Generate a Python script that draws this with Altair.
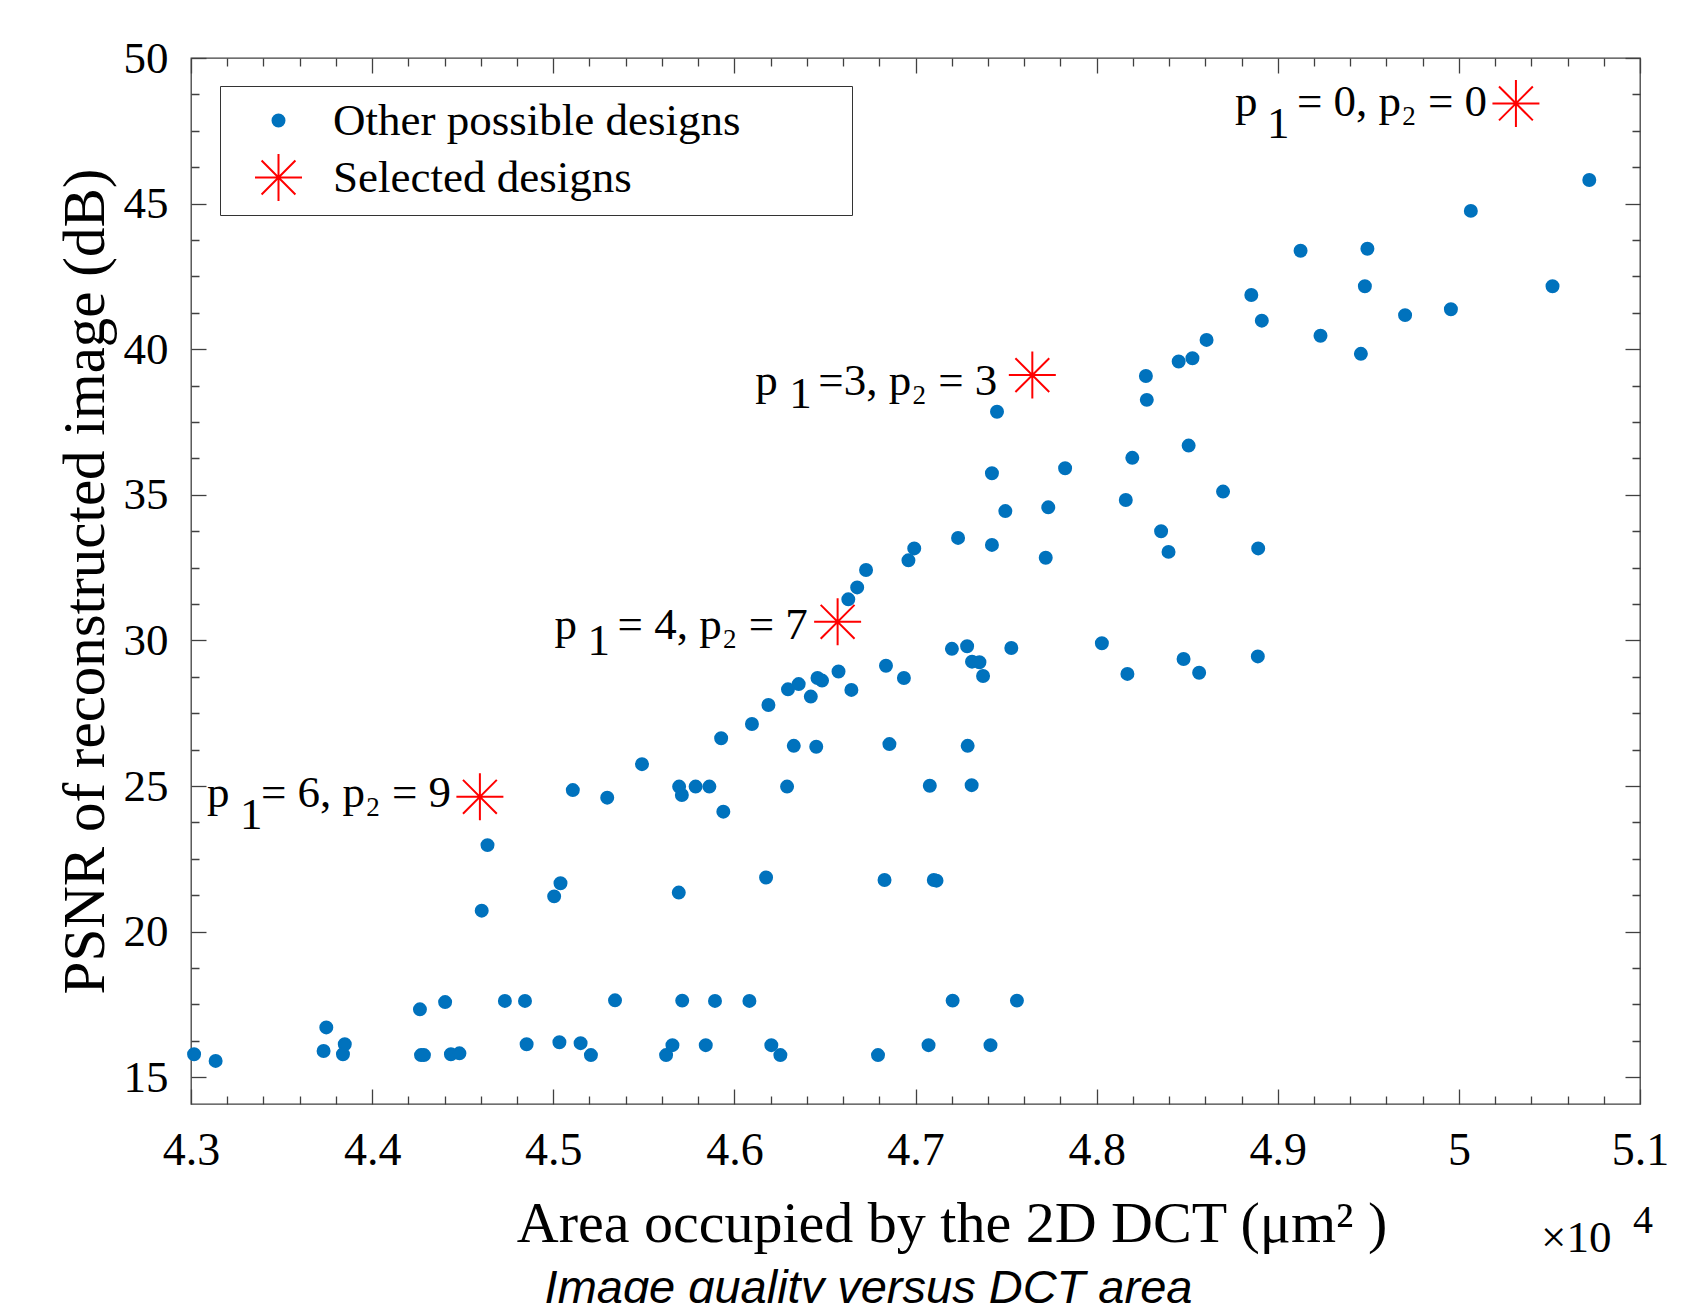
import altair as alt
import pandas as pd

# ---------------- data (x in units of 10^4 um^2, y in dB) ----------------
other_x = [4.3017, 4.3136, 4.3732, 4.3747, 4.3839, 4.3849, 4.4264, 4.4270, 4.4286, 4.4403,
           4.4435, 4.4482, 4.4733, 4.4844, 4.4853, 4.5034, 4.5151, 4.5208, 4.5341, 4.5623,
           4.5658, 4.5712, 4.5842, 4.5893, 4.6083, 4.6204, 4.6254, 4.6793, 4.7072, 4.7205,
           4.7414, 4.7560,
           4.4637, 4.4605, 4.5005, 4.5040, 4.5693, 4.6175, 4.6829, 4.7101, 4.7116,
           4.5108, 4.5298, 4.5490, 4.5695, 4.5710, 4.5786, 4.5862, 4.5939, 4.5927, 4.6097,
           4.6188, 4.6296, 4.6355, 4.6422, 4.6459, 4.6484, 4.6575, 4.6646, 4.6328, 4.6452,
           4.6291, 4.6629, 4.6678, 4.6727,
           4.8698, 4.8161, 4.7496, 4.7733, 4.7235, 4.7422, 4.6993, 4.6961, 4.7719, 4.8356,
           4.8397, 4.8892, 4.6837, 4.6936, 4.7201, 4.7285, 4.7312, 4.7353, 4.7373, 4.7529,
           4.8029, 4.8170, 4.8480, 4.8566, 4.8890, 4.6856, 4.7288, 4.7079, 4.7310,
           5.0720, 5.0066, 4.9126, 4.9495, 4.9481, 5.0517, 4.9956, 4.9703, 4.9236, 4.9459,
           4.8854, 4.8912, 4.8607, 4.8529, 4.8453, 4.8272, 4.8277, 4.7450, 4.7422, 4.7826,
           4.8197, 4.8508]
other_y = [15.79, 15.56, 15.90, 16.71, 15.79, 16.13, 17.33, 15.76, 15.76, 17.58,
           15.79, 15.82, 17.62, 17.62, 16.13, 16.20, 16.17, 15.76, 17.64, 15.76,
           16.10, 17.63, 16.10, 17.62, 17.62, 16.10, 15.76, 15.76, 16.10, 17.63,
           16.10, 17.63,
           22.97, 20.72, 21.21, 21.66, 21.34, 21.86, 21.77, 21.77, 21.75,
           24.86, 24.60, 25.75, 24.98, 24.69, 24.98, 24.98, 24.12, 26.64, 27.13,
           27.78, 28.32, 28.50, 28.07, 28.71, 28.62, 28.93, 28.30, 26.38, 26.35,
           24.98, 31.41, 31.82, 32.42,
           35.11, 34.82, 34.44, 34.57, 33.52, 33.28, 33.16, 32.75, 32.84, 33.75,
           33.04, 33.16, 29.13, 28.71, 29.71, 29.80, 29.27, 29.25, 28.78, 29.74,
           29.90, 28.85, 29.36, 28.89, 29.45, 26.44, 26.38, 25.01, 25.03,
           45.81, 44.75, 43.38, 43.45, 42.16, 42.16, 41.37, 41.17, 40.46, 39.84,
           41.86, 40.98, 40.32, 39.69, 39.58, 39.08, 38.26, 37.85, 35.74, 35.91,
           36.27, 36.69]

sel_x = [5.0315, 4.7645, 4.6570, 4.4595]
sel_y = [48.44, 39.11, 30.64, 24.63]
sel_p = ["p", "p", "p", "p"]
sel_sub = ["1", "1", "1", "1"]
sel_rest = ["= 0, p\u2082 = 0", "=3, p\u2082 = 3", "= 4, p\u2082 = 7", "= 6,  p\u2082 = 9"]

kinds = ["Other possible designs", "Selected designs"]

x_domain = [4.3, 5.1]
y_domain = [14.08, 50]
x_ticks = [round(4.3 + 0.02 * i, 2) for i in range(41)]
y_ticks = [15 + 1.25 * i for i in range(29)]
x_title = "Area occupied by the 2D DCT (\u03bcm\u00b2 )"
y_title = "PSNR of reconstructed image (dB)"
chart_title = "Image quality versus DCT area"
exp_base = "\u00d710"
exp_power = "4"

# ---------------- styles ----------------
SERIF = "Liberation Serif"
SANS = "Liberation Sans"
BLUE = "#0072BD"
RED = "#FF0000"
FRAME = "#404040"
CIRCLE = "M0.255,0A0.255,0.255,0,1,1,-0.255,0A0.255,0.255,0,1,1,0.255,0Z"
STAR = ("M-1,0L1,0M0,-1L0,1M-0.72,-0.72L0.72,0.72M-0.72,0.72L0.72,-0.72")
SYM = 2209

W, H = 1449, 1046

xmaj = "abs(datum.value*10 - round(datum.value*10)) < 1e-6"
ymaj = "abs(datum.value/5 - round(datum.value/5)) < 1e-6"
MINOR_DASH = [0, 7, 8, 0]
SOLID = [20, 0]

x_scale = alt.Scale(domain=x_domain, nice=False, zero=False)
y_scale = alt.Scale(domain=y_domain, nice=False, zero=False)


def x_axis(orient, labels):
    kw = dict(
        orient=orient, values=x_ticks, offset=-15, domain=False, grid=False,
        tickSize=15, tickColor=FRAME, tickWidth=1.3,
        tickDash={"condition": {"test": f"!({xmaj})", "value": MINOR_DASH}, "value": SOLID},
        labelOverlap=False, labelFlush=False, labelBound=False,
    )
    if labels:
        kw.update(
            labels=True,
            labelExpr=f"{xmaj} ? format(datum.value, '~g') : ''",
            labelFont=SERIF, labelFontSize=46, labelColor="black", labelPadding=24,
            title=x_title, titleFont=SERIF, titleFontSize=58, titleFontWeight="normal",
            titleColor="black", titlePadding=22, titleX=W / 2 + 36,
        )
    else:
        kw.update(labels=False, title=None)
    return alt.Axis(**kw)


def y_axis(orient, labels):
    kw = dict(
        orient=orient, values=y_ticks, offset=-15, domain=False, grid=False,
        tickSize=15, tickColor=FRAME, tickWidth=1.3,
        tickDash={"condition": {"test": f"!({ymaj})", "value": MINOR_DASH}, "value": SOLID},
        labelOverlap=False, labelFlush=False, labelBound=False,
    )
    if labels:
        kw.update(
            labels=True,
            labelExpr=f"{ymaj} ? format(datum.value, 'd') : ''",
            labelFont=SERIF, labelFontSize=45, labelColor="black", labelPadding=23,
            title=y_title, titleFont=SERIF, titleFontSize=59, titleFontWeight="normal",
            titleColor="black", titlePadding=8,
        )
    else:
        kw.update(labels=False, title=None)
    return alt.Axis(**kw)


df = pd.DataFrame({
    "x": other_x + sel_x,
    "y": other_y + sel_y,
    "kind": [kinds[0]] * len(other_x) + [kinds[1]] * len(sel_x),
})

color_scale = alt.Scale(domain=kinds, range=[BLUE, RED])
shape_scale = alt.Scale(domain=kinds, range=[CIRCLE, STAR])
# trailing non-breaking spaces (kept by a zero-width space) widen the legend box
legend = alt.Legend(
    title=None, orient="none", legendX=29, legendY=28,
    strokeColor="#333333", fillColor="white", padding=10, cornerRadius=0,
    labelFont=SERIF, labelFontSize=45, labelColor="black", labelLimit=0,
    labelExpr="datum.label + '" + "\u00a0" * 9 + "\u200b'",
    symbolSize=SYM, symbolStrokeWidth=2, symbolOpacity=1, symbolOffset=24, labelOffset=30,
    rowPadding=6,
)

points = alt.Chart(df).mark_point(filled=True, size=SYM, strokeWidth=2, opacity=1).encode(
    x=alt.X("x:Q", scale=x_scale, axis=x_axis("bottom", True)),
    y=alt.Y("y:Q", scale=y_scale, axis=y_axis("left", True)),
    fill=alt.Fill("kind:N", scale=color_scale, legend=legend),
    stroke=alt.Stroke("kind:N", scale=color_scale, legend=legend),
    shape=alt.Shape("kind:N", scale=shape_scale, legend=legend),
)

# annotation pieces: (dx, dy) offsets from each selected star
p_off = [(-281, 13), (-277, 20), (-283, 17), (-273, 10)]
sub_off = [(-249, 35), (-243, 33), (-250, 33), (-240, 32)]
rest_off = [(-219, 13), (-214, 20), (-220, 17), (-219, 10)]

layers = [points]
for i in range(len(sel_x)):
    ann = pd.DataFrame({"x": [sel_x[i]], "y": [sel_y[i]], "p": [sel_p[i]],
                        "sub": [sel_sub[i]], "rest": [sel_rest[i]]})
    base = alt.Chart(ann)
    for col, (dx, dy) in (("p", p_off[i]), ("sub", sub_off[i]), ("rest", rest_off[i])):
        if i == 0 and col == "p":
            xa, ya = x_axis("top", False), y_axis("right", False)
        else:
            xa, ya = None, None
        layers.append(
            base.mark_text(align="left", baseline="alphabetic", dx=dx, dy=dy,
                           font=SERIF, fontSize=45, color="black").encode(
                x=alt.X("x:Q", scale=x_scale, axis=xa),
                y=alt.Y("y:Q", scale=y_scale, axis=ya),
                text=f"{col}:N",
            )
        )

exp_df = pd.DataFrame({"base": [exp_base], "power": [exp_power]})
layers.append(
    alt.Chart(exp_df).mark_text(align="left", baseline="alphabetic", dx=-99, dy=148,
                                font=SERIF, fontSize=45, color="black").encode(
        x=alt.XDatum(x_domain[1], type="quantitative", scale=x_scale, axis=None),
        y=alt.YDatum(y_domain[0], type="quantitative", scale=y_scale, axis=None),
        text="base:N",
    )
)
layers.append(
    alt.Chart(exp_df).mark_text(align="left", baseline="alphabetic", dx=-7, dy=129,
                                font=SERIF, fontSize=40, color="black").encode(
        x=alt.XDatum(x_domain[1], type="quantitative", scale=x_scale, axis=None),
        y=alt.YDatum(y_domain[0], type="quantitative", scale=y_scale, axis=None),
        text="power:N",
    )
)

chart = alt.layer(*layers).properties(
    width=W, height=H,
    autosize=alt.AutoSizeParams(type="none"),
    padding={"left": 183, "top": 50, "right": 30, "bottom": 199},
    title=alt.TitleParams(
        text=chart_title, orient="bottom", anchor="middle", frame="group", dx=-47,
        offset=5, font=SANS, fontSize=47, fontStyle="italic", fontWeight="normal",
        color="black",
    ),
).configure_view(stroke=FRAME, strokeWidth=1.3)

chart.save("out.html", embed_options={"renderer": "svg", "actions": False})
